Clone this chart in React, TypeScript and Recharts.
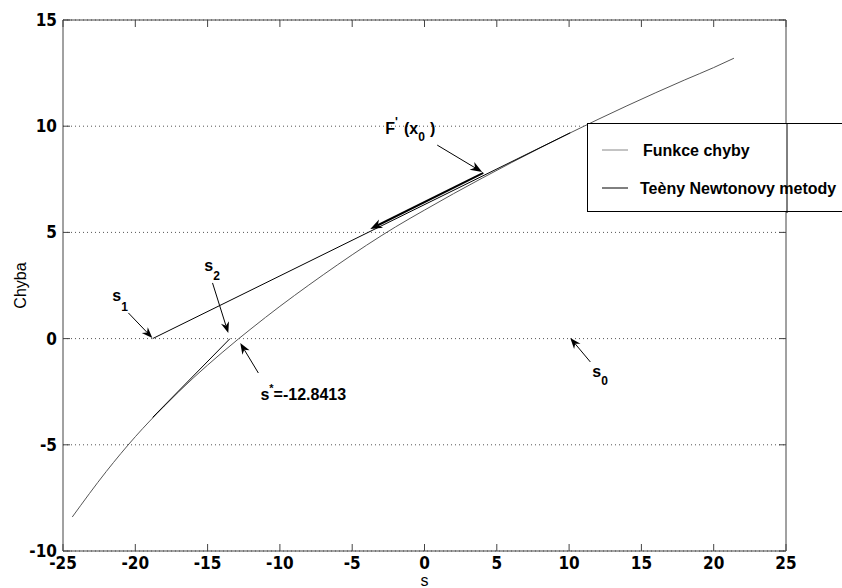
import React from "react";
import {
  CartesianGrid,
  Label,
  Line,
  LineChart,
  ReferenceDot,
  ReferenceLine,
  XAxis,
  YAxis,
} from "recharts";

// Funkce chyby (error as a function of the shooting parameter s)
const errorS = [-24.36, -22, -20, -18, -16, -14, -12.84, -12, -10, -8, -6, -4, -2, 0, 2, 4, 6, 8, 10, 12, 14, 16, 18, 20, 21.4];
const errorF = [-8.4, -6.25, -4.62, -3.18, -1.86, -0.66, 0, 0.46, 1.52, 2.52, 3.48, 4.4, 5.26, 6.05, 6.82, 7.56, 8.28, 8.98, 9.66, 10.32, 10.96, 11.58, 12.18, 12.76, 13.2];

// Tečny Newtonovy metody
const tangent1S = [-18.8, 10.08];
const tangent1F = [0, 9.69];
const tangent2S = [-18.8, -13.45];
const tangent2F = [-3.71, 0];

const xTicks = [-25, -20, -15, -10, -5, 0, 5, 10, 15, 20, 25];
const yTicks = [-10, -5, 0, 5, 10, 15];

const toRows = (xs: number[], ys: number[]) => xs.map((x, i) => ({ x, y: ys[i] }));
const errorData = toRows(errorS, errorF);
const tangent1Data = toRows(tangent1S, tangent1F);
const tangent2Data = toRows(tangent2S, tangent2F);

const NARROW = "'Liberation Sans Narrow', 'DejaVu Sans Condensed', sans-serif";
const SANS = "'Liberation Sans', Arial, sans-serif";
const FRAME = "#444";
const TICK = { fill: "#000", fontSize: 17, fontFamily: NARROW, fontWeight: 700 };

type Arrow = { from: [number, number]; to: [number, number]; width: number; head: number };
const arrows: Arrow[] = [
  { from: [-20.48, 1.21], to: [-18.82, 0.03], width: 1, head: 11 },
  { from: [-14.66, 2.62], to: [-13.57, 0.26], width: 1, head: 11 },
  { from: [-11.49, -1.62], to: [-12.74, -0.21], width: 1, head: 11 },
  { from: [11.47, -1.1], to: [10.08, 0.03], width: 1, head: 11 },
  { from: [0.88, 9.11], to: [3.99, 7.84], width: 1, head: 12 },
  { from: [4.07, 7.8], to: [-3.75, 5.16], width: 2, head: 12 },
];

function arrowShape(width: number, head: number) {
  return (p: any) => {
    const { x1, y1, x2, y2 } = p;
    const a = Math.atan2(y2 - y1, x2 - x1);
    const c = Math.cos(a);
    const s = Math.sin(a);
    const w = head * 0.38;
    const bx = x2 - head * c;
    const by = y2 - head * s;
    const nx = x2 - head * 0.7 * c;
    const ny = y2 - head * 0.7 * s;
    const pts = `${x2},${y2} ${bx + w * s},${by - w * c} ${nx},${ny} ${bx - w * s},${by + w * c}`;
    return (
      <g>
        <line x1={x1} y1={y1} x2={nx} y2={ny} stroke="#000" strokeWidth={width} />
        <polygon points={pts} fill="#000" />
      </g>
    );
  };
}

const labelStyle = { fontFamily: SANS, fontWeight: 700, fontSize: 16, fill: "#000" } as const;

function subLabel(base: string, sub: string, dy: number) {
  return (p: any) => (
    <text x={p.cx} y={p.cy} {...labelStyle}>
      {base}
      <tspan dy={dy} fontSize={12}>{sub}</tspan>
    </text>
  );
}

const starLabel = (p: any) => (
  <text x={p.cx} y={p.cy} {...labelStyle}>
    s
    <tspan dy={-8} fontSize={11}>*</tspan>
    <tspan dy={8}>=-12.8413</tspan>
  </text>
);

const derivLabel = (p: any) => (
  <text x={p.cx} y={p.cy} {...labelStyle}>
    F
    <tspan dy={-8} fontSize={12}>'</tspan>
    <tspan dy={8} dx={6}>(x</tspan>
    <tspan dy={7} fontSize={12}>0</tspan>
    <tspan dy={-7} dx={5}>)</tspan>
  </text>
);

const labels = [
  { x: -21.59, y: 1.77, shape: subLabel("s", "1", 10) },
  { x: -15.23, y: 3.18, shape: subLabel("s", "2", 9) },
  { x: 11.6, y: -1.81, shape: subLabel("s", "0", 8) },
  { x: -11.35, y: -2.89, shape: starLabel },
  { x: -2.71, y: 9.63, shape: derivLabel },
];

function Legend() {
  return (
    <svg
      width={256}
      height={90}
      style={{ position: "absolute", left: 587, top: 123 }}
    >
      <rect x={0.5} y={0.5} width={300} height={88} fill="#fff" stroke="#000" />
      <line x1={15} y1={27} x2={41} y2={27} stroke="#888" />
      <text x={56} y={27} dominantBaseline="central" {...labelStyle}>Funkce chyby</text>
      <line x1={15} y1={65} x2={41} y2={65} stroke="#000" />
      <text x={53} y={65} dominantBaseline="central" {...labelStyle}>Teèny Newtonovy metody</text>
      <line x1={200} y1={0} x2={200} y2={90} stroke="#000" />
    </svg>
  );
}

export default function App() {
  return (
    <div
      style={{
        position: "absolute",
        left: 0,
        top: 0,
        width: 842,
        height: 588,
        overflow: "hidden",
        background: "#fff",
      }}
    >
      <LineChart width={842} height={588} margin={{ top: 0, right: 0, bottom: 0, left: 0 }}>
        <CartesianGrid vertical={false} stroke="#555" strokeDasharray="1 3" />
        <XAxis
          xAxisId={0}
          type="number"
          dataKey="x"
          domain={[-25, 25]}
          ticks={xTicks}
          interval={0}
          allowDataOverflow
          height={37}
          tickSize={-7}
          tickMargin={13}
          tick={TICK}
          axisLine={{ stroke: FRAME }}
          tickLine={{ stroke: FRAME }}
        >
          <Label
            content={(p: any) => (
              <text
                x={p.viewBox.x + p.viewBox.width / 2}
                y={580}
                textAnchor="middle"
                dominantBaseline="central"
                fontFamily={SANS}
                fontSize={16}
              >
                s
              </text>
            )}
          />
        </XAxis>
        <XAxis
          xAxisId="top"
          orientation="top"
          type="number"
          dataKey="x"
          domain={[-25, 25]}
          ticks={xTicks}
          interval={0}
          allowDataOverflow
          height={20}
          tickSize={-7}
          tick={() => <g />}
          axisLine={{ stroke: FRAME }}
          tickLine={{ stroke: FRAME }}
        />
        <YAxis
          yAxisId={0}
          type="number"
          domain={[-10, 15]}
          ticks={yTicks}
          interval={0}
          allowDataOverflow
          width={63}
          tickSize={-7}
          tickMargin={13}
          tick={TICK}
          axisLine={{ stroke: FRAME }}
          tickLine={{ stroke: FRAME }}
        >
          <Label
            content={(p: any) => {
              const cx = 20;
              const cy = p.viewBox.y + p.viewBox.height / 2;
              return (
                <text
                  x={cx}
                  y={cy}
                  transform={`rotate(-90 ${cx} ${cy})`}
                  textAnchor="middle"
                  dominantBaseline="central"
                  fontFamily={SANS}
                  fontSize={16}
                >
                  Chyba
                </text>
              );
            }}
          />
        </YAxis>
        <YAxis
          yAxisId="right"
          orientation="right"
          type="number"
          domain={[-10, 15]}
          ticks={yTicks}
          interval={0}
          allowDataOverflow
          width={56}
          tickSize={-7}
          tick={() => <g />}
          axisLine={{ stroke: FRAME }}
          tickLine={{ stroke: FRAME }}
        />
        <Line
          data={errorData}
          dataKey="y"
          type="monotone"
          stroke="#555"
          strokeWidth={1}
          dot={false}
          activeDot={false}
          isAnimationActive={false}
        />
        <Line
          data={tangent1Data}
          dataKey="y"
          type="linear"
          stroke="#000"
          strokeWidth={1}
          dot={false}
          activeDot={false}
          isAnimationActive={false}
        />
        <Line
          data={tangent2Data}
          dataKey="y"
          type="linear"
          stroke="#000"
          strokeWidth={1}
          dot={false}
          activeDot={false}
          isAnimationActive={false}
        />
        {arrows.map((a, i) => (
          <ReferenceLine
            key={`arrow-${i}`}
            segment={[
              { x: a.from[0], y: a.from[1] },
              { x: a.to[0], y: a.to[1] },
            ]}
            ifOverflow="visible"
            shape={arrowShape(a.width, a.head)}
          />
        ))}
        {labels.map((l, i) => (
          <ReferenceDot
            key={`label-${i}`}
            x={l.x}
            y={l.y}
            r={1}
            ifOverflow="visible"
            shape={l.shape}
          />
        ))}
      </LineChart>
      <Legend />
    </div>
  );
}
